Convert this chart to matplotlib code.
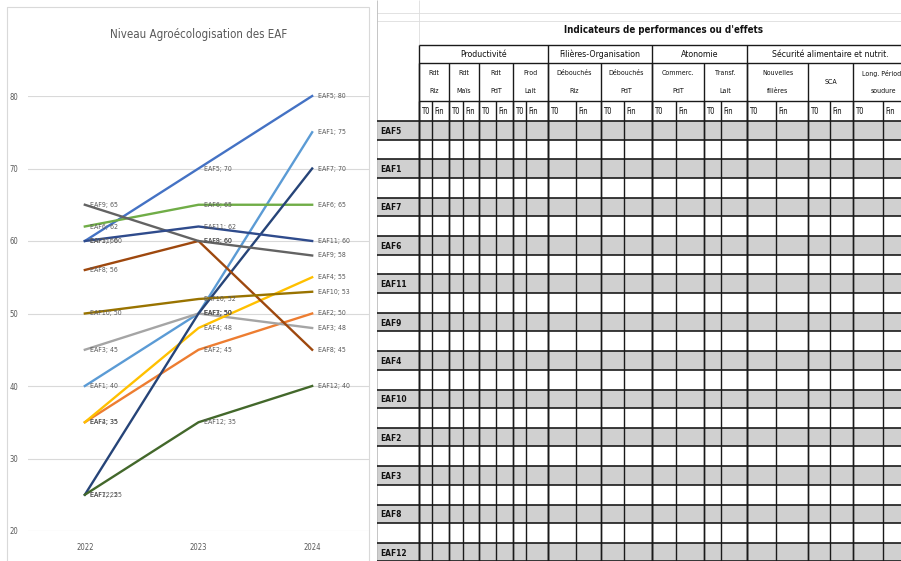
import matplotlib
matplotlib.use("Agg")
import matplotlib.pyplot as plt
from matplotlib import font_manager
from matplotlib.patches import Rectangle

# font: narrow font if we have it (the reference looks like Calibri)
names = {f.name for f in font_manager.fontManager.ttflist}
NARROW = 'Liberation Sans Narrow' if 'Liberation Sans Narrow' in names else 'DejaVu Sans'
plt.rcParams['font.family'] = [NARROW, 'DejaVu Sans']
plt.rcParams['font.stretch'] = 'condensed'

# ---- chart data ----
years = ['2022', '2023', '2024']
eaf1 = [40, 50, 75]
eaf2 = [35, 45, 50]
eaf3 = [45, 50, 48]
eaf4 = [35, 48, 55]
eaf5 = [60, 70, 80]
eaf6 = [62, 65, 65]
eaf7 = [25, 50, 70]
eaf8 = [56, 60, 45]
eaf9 = [65, 60, 58]
eaf10 = [50, 52, 53]
eaf11 = [60, 62, 60]
eaf12 = [25, 35, 40]

series = {'EAF1': eaf1, 'EAF2': eaf2, 'EAF3': eaf3, 'EAF4': eaf4, 'EAF5': eaf5,
          'EAF6': eaf6, 'EAF7': eaf7, 'EAF8': eaf8, 'EAF9': eaf9, 'EAF10': eaf10,
          'EAF11': eaf11, 'EAF12': eaf12}
colors = {'EAF1': '#5B9BD5', 'EAF2': '#ED7D31', 'EAF3': '#A5A5A5', 'EAF4': '#FFC000',
          'EAF5': '#4472C4', 'EAF6': '#70AD47', 'EAF7': '#264478', 'EAF8': '#9E480E',
          'EAF9': '#636363', 'EAF10': '#997300', 'EAF11': '#2F4B8C', 'EAF12': '#43682B'}

# ---- table data ----
groups = ['Productivité', 'Filières-Organisation', 'Atonomie', 'Sécurité alimentaire et nutrit.']
group_size = [4, 2, 2, 3]
indicators = ['Rdt\nRiz', 'Rdt\nMaïs', 'Rdt\nPdT', 'Prod\nLait', 'Débouchés\nRiz',
              'Débouchés\nPdT', 'Commerc.\nPdT', 'Transf.\nLait', 'Nouvelles\nfilières',
              'SCA', 'Long. Période\nsoudure']
periods = ['T0', 'Fin']
row_labels = ['EAF5', 'EAF1', 'EAF7', 'EAF6', 'EAF11', 'EAF9', 'EAF4', 'EAF10',
              'EAF2', 'EAF3', 'EAF8', 'EAF12']

W, H = 901, 561
fig = plt.figure(figsize=(W / 100, H / 100), dpi=100)

# ---------------- line chart ----------------
ax = fig.add_axes([28 / W, 1 - 531 / H, (369 - 28) / W, (531 - 96) / H])
x = range(len(years))
for name, vals in series.items():
    ax.plot(x, vals, color=colors[name], lw=1.7, clip_on=False, zorder=3)
for name, vals in series.items():
    for i, v in enumerate(vals):
        ax.annotate(f'{name}; {v}', (i, v), xytext=(4, 0), textcoords='offset points',
                    ha='left', va='center', fontsize=5, color='#595959', zorder=4)
ax.set_xlim(-0.5, 2.5)
ax.set_ylim(20, 80)
ax.set_yticks(range(20, 81, 10))
ax.set_xticks(list(x))
ax.set_xticklabels(years)
ax.grid(axis='y', color='#d9d9d9', lw=0.8)
ax.set_axisbelow(True)
for s in ax.spines.values():
    s.set_visible(False)
ax.tick_params(length=0, labelsize=5.5, labelcolor='#595959', pad=9)
ax.tick_params(axis='y', pad=7)
ax.set_title('Niveau Agroécologisation des EAF', fontsize=8.3, color='#595959', pad=42)

# ---------------- table (pixel coordinates) ----------------
tb = fig.add_axes([0, 0, 1, 1], facecolor='none')
tb.set_xlim(0, W)
tb.set_ylim(H, 0)
tb.axis('off')

# chart frame
tb.add_patch(Rectangle((7, 7), 362, 560, fill=False, ec='#d9d9d9', lw=0.8))

col_x = [419, 432, 449, 463, 479, 496, 513, 526, 548, 576, 601, 624, 652, 676,
         704, 721, 747, 776, 808, 830, 853, 883, 913]
row0, pair_h, gray_h = 121, 38.36, 18.5
dark = '#1a1a1a'

# faint spreadsheet grid above
tb.hlines([13, 21], 377, W, color='#dddddd', lw=0.6)
tb.vlines([377], 0, H, color='#bbbbbb', lw=0.6)
tb.vlines([419], 0, 45, color='#dddddd', lw=0.6)

tb.text(663, 30, "Indicateurs de performances ou d'effets", ha='center', va='center',
        fontsize=7, fontweight='bold', color='#111111')

# gray rows + labels
for i, lab in enumerate(row_labels):
    top = row0 + i * pair_h
    tb.add_patch(Rectangle((377, top), W - 377, gray_h, fc='#d0d0d0', ec='none', zorder=1))
    tb.hlines([top, top + gray_h], 377, W, color=dark, lw=1.2, zorder=2)
    tb.text(380, top + gray_h / 2 + 1, lab, ha='left', va='center', fontsize=6,
            fontweight='bold', color='#111111', zorder=3)

# header lines
tb.hlines([45, 63, 101], 419, W, color=dark, lw=1.0, zorder=2)

# group headers
ind_edges = col_x[::2]
k = 0
for g, n in zip(groups, group_size):
    x0, x1 = ind_edges[k], ind_edges[k + n]
    tb.vlines(x0, 45, H, color=dark, lw=1.0, zorder=2)
    tb.text((x0 + x1) / 2, 54, g, ha='center', va='center', fontsize=6.3, color='#111111')
    k += n

# indicator headers
for j, ind in enumerate(indicators):
    x0, x1 = ind_edges[j], ind_edges[j + 1]
    tb.vlines(x0, 63, H, color=dark, lw=1.0, zorder=2)
    parts = ind.split('\n')
    if len(parts) == 2:
        tb.text((x0 + x1) / 2, 73, parts[0], ha='center', va='center', fontsize=5, color='#111111')
        tb.text((x0 + x1) / 2, 91, parts[1], ha='center', va='center', fontsize=5, color='#111111')
    else:
        tb.text((x0 + x1) / 2, 82, ind, ha='center', va='center', fontsize=5, color='#111111')

# T0 / Fin
for c in range(len(col_x) - 1):
    tb.vlines(col_x[c], 101, H, color=dark, lw=1.0, zorder=2)
    tb.text(col_x[c] + 2, 111, periods[c % 2], ha='left', va='center', fontsize=5.5,
            color='#111111')

fig.savefig('out.png', dpi=100)
